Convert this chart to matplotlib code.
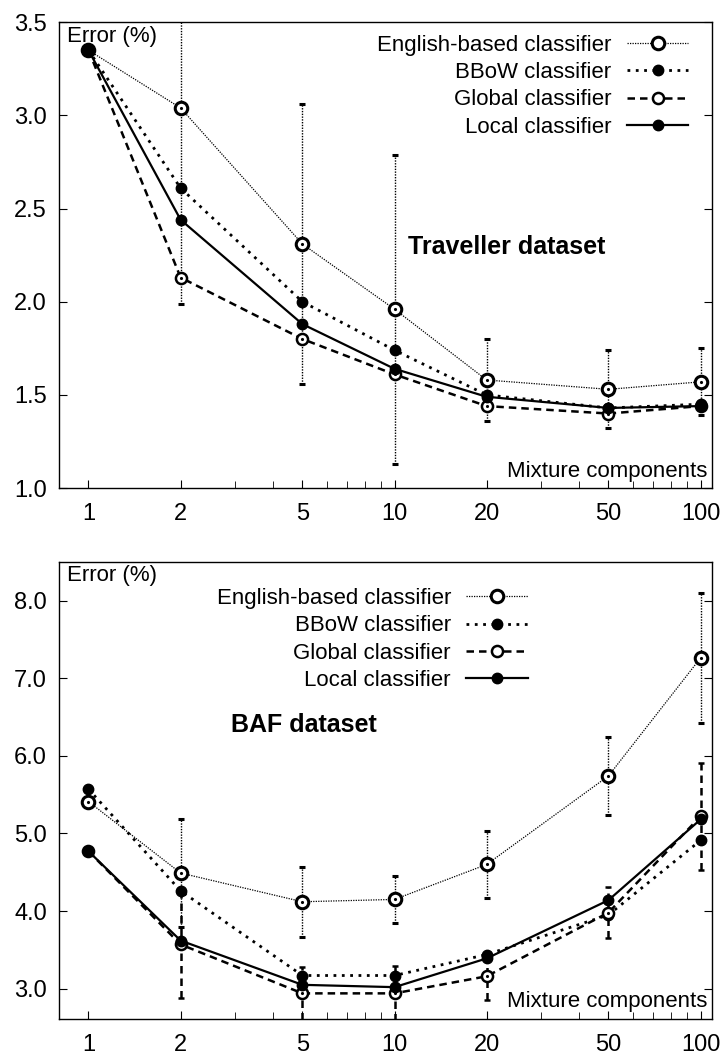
import numpy as np
import matplotlib
matplotlib.use('Agg')
import matplotlib.pyplot as plt
from matplotlib.lines import Line2D
from matplotlib.ticker import FixedLocator, NullFormatter, FormatStrFormatter

plt.rcParams['font.family'] = ['Liberation Sans', 'DejaVu Sans']

# Numero de componentes de la mezcla
components = [1, 2, 5, 10, 20, 50, 100]

# Traveller dataset
trav_english = [3.35, 3.04, 2.31, 1.96, 1.58, 1.53, 1.57]
trav_english_err = [0.0, 1.05, 0.75, 0.83, 0.22, 0.21, 0.18]
trav_bbow = [3.35, 2.61, 2.00, 1.74, 1.50, 1.43, 1.45]
trav_global = [3.35, 2.13, 1.80, 1.61, 1.44, 1.40, 1.44]
trav_local = [3.35, 2.44, 1.88, 1.64, 1.49, 1.43, 1.44]

# BAF dataset
baf_english = [5.41, 4.49, 4.12, 4.15, 4.60, 5.74, 7.26]
baf_english_err = [0.0, 0.70, 0.45, 0.30, 0.43, 0.50, 0.84]
baf_bbow = [5.57, 4.26, 3.17, 3.17, 3.44, 3.95, 4.91]
baf_global = [4.77, 3.57, 2.94, 2.94, 3.16, 3.98, 5.22]
baf_global_err = [0.0, 0.69, 0.34, 0.35, 0.30, 0.33, 0.69]
baf_local = [4.77, 3.62, 3.05, 3.02, 3.39, 4.14, 5.18]

labels = ['English-based classifier', 'BBoW classifier', 'Global classifier', 'Local classifier']

DOT_FINE = (0, (1, 1))
DOT = (0, (1, 2))
DASH = (0, (3, 2))

FS = 16

# Estilos de cada serie (linea + marcador)
styles = [
    dict(color='black', lw=0.9, ls=DOT_FINE, marker='o', ms=9, mfc='white', mec='black', mew=2.2),
    dict(color='black', lw=2.0, ls=DOT, marker='o', ms=7.5, mfc='black', mec='black'),
    dict(color='black', lw=1.8, ls=DASH, marker='o', ms=8, mfc='white', mec='black', mew=1.8),
    dict(color='black', lw=1.6, ls='-', marker='o', ms=7.5, mfc='black', mec='black'),
]


def draw_panel(ax, english, english_err, bbow, glob, local, glob_err=None):
    # English-based: punteado fino con barras de error
    eb = ax.errorbar(components, english, yerr=english_err, elinewidth=1.0, capsize=2,
                     capthick=1.0, zorder=3, **styles[0])
    eb[2][0].set_linestyle(DOT_FINE)
    ax.plot(components, english, ls='none', marker='.', ms=2.5, color='black', zorder=3.1)

    ax.plot(components, bbow, zorder=4, **styles[1])

    if glob_err is not None:
        eg = ax.errorbar(components, glob, yerr=glob_err, elinewidth=1.8, capsize=2,
                         capthick=1.5, zorder=5, **styles[2])
        eg[2][0].set_linestyle(DASH)
    else:
        ax.plot(components, glob, zorder=5, **styles[2])
    ax.plot(components, glob, ls='none', marker='.', ms=2.5, color='black', zorder=5.1)

    ax.plot(components, local, zorder=6, **styles[3])

    ax.set_xscale('log')
    ax.set_xlim(0.803, 109.3)
    ax.xaxis.set_major_locator(FixedLocator(components))
    ax.xaxis.set_major_formatter(FormatStrFormatter('%d'))
    minor = [3, 4, 6, 7, 8, 9, 30, 40, 60, 70, 80, 90]
    ax.xaxis.set_minor_locator(FixedLocator(minor))
    ax.xaxis.set_minor_formatter(NullFormatter())
    ax.yaxis.set_major_formatter(FormatStrFormatter('%.1f'))
    ax.tick_params(axis='x', which='both', direction='in', top=False, labelsize=17, pad=11)
    ax.tick_params(axis='x', which='major', length=6)
    ax.tick_params(axis='x', which='minor', length=5)
    ax.tick_params(axis='y', direction='in', right=True, length=6, labelsize=17, pad=9)
    for s in ax.spines.values():
        s.set_linewidth(1.0)
    ax.text(0.012, 0.992, 'Error (%)', transform=ax.transAxes, ha='left', va='top', fontsize=FS)

    handles = [Line2D([], [], **st) for st in styles]
    return handles


fig = plt.figure(figsize=(7.2, 10.61), dpi=100)

# Panel superior: Traveller
ax1 = fig.add_axes([0.0824, 0.540, 0.907, 0.439])
h1 = draw_panel(ax1, trav_english, trav_english_err, trav_bbow, trav_global, trav_local)
ax1.set_ylim(1.0, 3.5)
ax1.set_yticks([1.0, 1.5, 2.0, 2.5, 3.0, 3.5])
ax1.legend(h1, labels, loc='upper right', bbox_to_anchor=(0.963, 0.973), frameon=False,
           markerfirst=False, fontsize=FS, borderaxespad=0, borderpad=0, handlelength=2.75,
           handletextpad=0.7, labelspacing=0.28)
ax1.text(0.685, 0.517, 'Traveller dataset', transform=ax1.transAxes, ha='center', va='center',
         fontsize=18, fontweight='bold')
ax1.text(0.993, 0.024, 'Mixture components', transform=ax1.transAxes, ha='right',
         va='baseline', fontsize=FS)

# Panel inferior: BAF
ax2 = fig.add_axes([0.0824, 0.0396, 0.907, 0.431])
h2 = draw_panel(ax2, baf_english, baf_english_err, baf_bbow, baf_global, baf_local,
                glob_err=baf_global_err)
ax2.set_ylim(2.61, 8.5)
ax2.set_yticks([3.0, 4.0, 5.0, 6.0, 7.0, 8.0])
ax2.legend(h2, labels, loc='upper right', bbox_to_anchor=(0.717, 0.942), frameon=False,
           markerfirst=False, fontsize=FS, borderaxespad=0, borderpad=0, handlelength=2.75,
           handletextpad=0.7, labelspacing=0.28)
ax2.text(0.375, 0.643, 'BAF dataset', transform=ax2.transAxes, ha='center', va='center',
         fontsize=18, fontweight='bold')
ax2.text(0.993, 0.026, 'Mixture components', transform=ax2.transAxes, ha='right',
         va='baseline', fontsize=FS)

fig.savefig('out.png', dpi=100)
